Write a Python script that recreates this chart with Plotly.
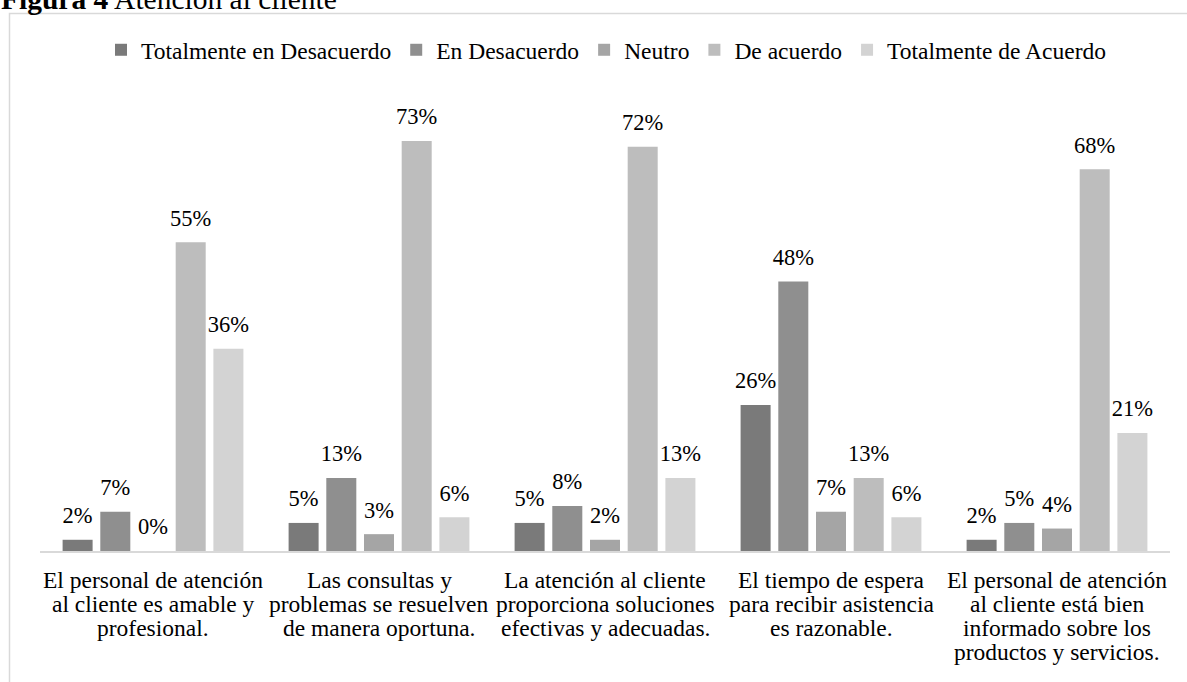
import plotly.graph_objects as go

categories = [
    "El personal de atención<br>al cliente es amable y<br>profesional.",
    "Las consultas y<br>problemas se resuelven<br>de manera oportuna.",
    "La atención al cliente<br>proporciona soluciones<br>efectivas y adecuadas.",
    "El tiempo de espera<br>para recibir asistencia<br>es razonable.",
    "El personal de atención<br>al cliente está bien<br>informado sobre los<br>productos y servicios.",
]
cat_ids = ["c1", "c2", "c3", "c4", "c5"]

series_names = [
    "Totalmente en Desacuerdo",
    "En Desacuerdo",
    "Neutro",
    "De acuerdo",
    "Totalmente de Acuerdo",
]
totalmente_desacuerdo = [2, 5, 5, 26, 2]
en_desacuerdo = [7, 13, 8, 48, 5]
neutro = [0, 3, 2, 7, 4]
de_acuerdo = [55, 73, 72, 13, 68]
totalmente_acuerdo = [36, 6, 13, 6, 21]
series_values = [totalmente_desacuerdo, en_desacuerdo, neutro, de_acuerdo, totalmente_acuerdo]

colors = ["#7a7a7a", "#8f8f8f", "#a5a5a5", "#bdbdbd", "#d3d3d3"]

FONT = "Liberation Serif, Times New Roman, serif"
W, H = 1187, 682
ML, MR, MT, MB = 40, 17, 100, 131
PW = W - ML - MR
PH = H - MT - MB
GAP = 0.166

def px_x(p):
    return (p - ML) / PW

def px_y(p):
    return (H - MB - p) / PH

fig = go.Figure()
for name, vals, col in zip(series_names, series_values, colors):
    fig.add_trace(go.Bar(
        x=cat_ids, y=vals, name=name,
        marker=dict(color=col, line=dict(width=0)),
        hoverinfo="skip",
    ))
# value labels, grouped the same way as the bars
for name, vals in zip(series_names, series_values):
    fig.add_trace(go.Scatter(
        x=cat_ids, y=vals, mode="markers+text",
        text=[f"{v}%" for v in vals], textposition="top center",
        textfont=dict(family=FONT, size=22.5, color="#000000"),
        marker=dict(size=16, color="rgba(0,0,0,0)"),
        showlegend=False, hoverinfo="skip", cliponaxis=False,
    ))

annotations = []
annotations.append(dict(
    text="<b>Figura 4</b> Atención al cliente",
    xref="paper", yref="paper", x=px_x(-1), y=px_y(16.5),
    xanchor="left", yanchor="bottom", showarrow=False,
    font=dict(family=FONT, size=29.5, color="#000000"),
))
for cid, lab in zip(cat_ids, categories):
    for i, line in enumerate(lab.split("<br>")):
        annotations.append(dict(
            text=line, x=cid, xref="x", yref="paper", y=0,
            xanchor="center", yanchor="middle", yshift=-29 - 24 * i,
            showarrow=False,
            font=dict(family=FONT, size=23.5, color="#000000"),
        ))

fig.update_layout(
    width=W, height=H,
    margin=dict(l=ML, r=MR, t=MT, b=MB, pad=0),
    paper_bgcolor="white", plot_bgcolor="white",
    barmode="group", bargap=GAP, bargroupgap=0.204,
    scattermode="group", scattergap=GAP,
    font=dict(family=FONT, color="#000000"),
    legend=dict(
        orientation="h", x=px_x(606), xanchor="center",
        y=px_y(50), yanchor="middle",
        font=dict(family=FONT, size=23.5, color="#000000"),
        itemclick=False, itemdoubleclick=False,
        tracegroupgap=0, itemwidth=30,
    ),
    xaxis=dict(
        showline=True, linecolor="#d9d9d9", linewidth=1.5,
        showticklabels=False, ticks="", showgrid=False, zeroline=False,
    ),
    yaxis=dict(
        range=[0, PH / 5.615], visible=False, showgrid=False, zeroline=False,
    ),
    annotations=annotations,
    shapes=[dict(
        type="rect", xref="paper", yref="paper",
        x0=px_x(9.5), x1=px_x(1220), y0=px_y(720), y1=px_y(13.5),
        line=dict(color="#d9d9d9", width=1.5), fillcolor="rgba(0,0,0,0)",
        layer="below",
    )],
    showlegend=True,
)

fig.write_html("out.html")
